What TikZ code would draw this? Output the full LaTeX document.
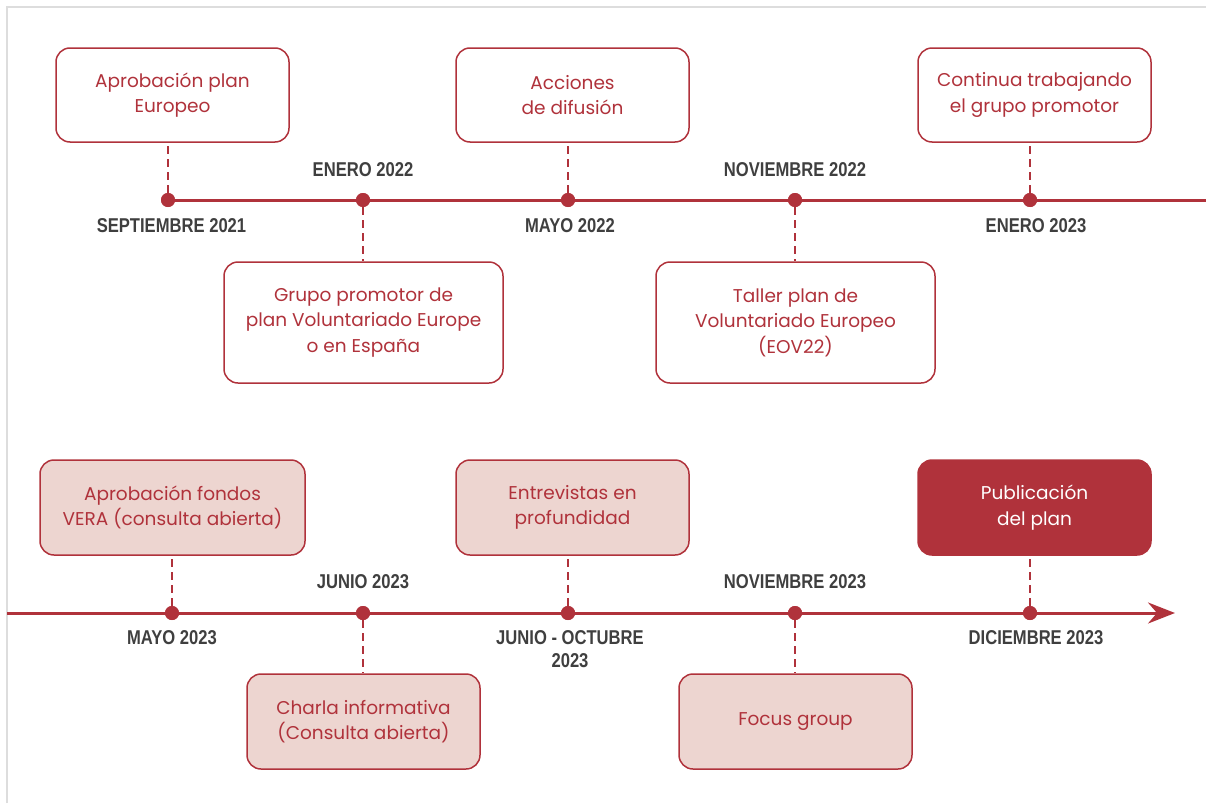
\documentclass[tikz,border=0pt]{standalone}
\usepackage{fontspec}
\usetikzlibrary{arrows.meta}
\newfontfamily\boxfont{Poppins}
\newfontfamily\labfont[FakeStretch=0.83]{Liberation Sans}
\definecolor{tlred}{HTML}{B0323B}
\definecolor{tlpink}{HTML}{EDD5D0}
\definecolor{labgray}{HTML}{3F3F3F}
\definecolor{framegray}{HTML}{DDDDDD}
\tikzset{
  evbox/.style={draw=tlred, line width=1.5pt, rounded corners=14pt, text=tlred,
    align=center, inner sep=0pt, font=\boxfont\fontsize{18.5pt}{25.5pt}\selectfont},
  whitebox/.style={evbox, fill=white},
  pinkbox/.style={evbox, fill=tlpink},
  darkbox/.style={evbox, fill=tlred, text=white},
  smallbox/.style={minimum width=233pt, minimum height=94pt},
  widebox/.style={minimum width=279pt, minimum height=121pt},
  datelab/.style={text=labgray, align=center, inner sep=0pt,
    font=\labfont\bfseries\fontsize{20pt}{23pt}\selectfont},
  dot/.style={circle, fill=tlred, inner sep=0pt, minimum size=14pt},
  tline/.style={tlred, line width=3pt},
  conn/.style={tlred, line width=2pt, dash pattern=on 8pt off 5pt},
}
\begin{document}
\begin{tikzpicture}[x=1pt, y=-1pt]
\useasboundingbox (0,0) rectangle (1206,803);
\draw[framegray, line width=1.5pt] (7,803) -- (7,7) -- (1206,7);
% ---- top timeline
\coordinate (tend) at (1206,200);
\node[dot] (d1) at (168,200) {};
\node[dot] (d2) at (363,200) {};
\node[dot] (d3) at (568,200) {};
\node[dot] (d4) at (795,200) {};
\node[dot] (d5) at (1030,200) {};
\draw[tline] (d1.center) -- (tend);
\foreach \d in {d1,d2,d3,d4,d5} \node[dot] at (\d) {};
\node[whitebox, smallbox] (b1) at (172.5,95) {Aprobación plan\\Europeo};
\node[whitebox, smallbox] (b2) at (572.5,95) {Acciones\\de difusión};
\node[whitebox, smallbox] (b3) at (1034.5,95) {Continua trabajando\\el grupo promotor};
\node[whitebox, widebox] (b4) at (363.5,322.5) {Grupo promotor de\\plan Voluntariado Europe\\o en España};
\node[whitebox, widebox] (b5) at (795.5,322.5) {Taller plan de\\Voluntariado Europeo\\(EOV22)};
\draw[conn] (d1) -- (d1 |- b1.south);
\draw[conn] (d3) -- (d3 |- b2.south);
\draw[conn] (d5) -- (d5 |- b3.south);
\draw[conn] (d2) -- (d2 |- b4.north);
\draw[conn] (d4) -- (d4 |- b5.north);
\node[datelab] (l1) at (171.5,226) {SEPTIEMBRE 2021};
\node[datelab] (l2) at (363,170) {ENERO 2022};
\node[datelab] (l3) at (570,226) {MAYO 2022};
\node[datelab] (l4) at (795,170) {NOVIEMBRE 2022};
\node[datelab] (l5) at (1036,226) {ENERO 2023};
% ---- bottom timeline
\coordinate (bstart) at (7,613);
\coordinate (bend) at (1175,613);
\node[dot] (e1) at (172,613) {};
\node[dot] (e2) at (363,613) {};
\node[dot] (e3) at (568,613) {};
\node[dot] (e4) at (795,613) {};
\node[dot] (e5) at (1030,613) {};
\draw[tline, -{Stealth[length=27pt, width=21pt, inset=9pt]}] (bstart) -- (bend);
\foreach \d in {e1,e2,e3,e4,e5} \node[dot] at (\d) {};
\node[pinkbox, minimum width=265pt, minimum height=95pt] (c1) at (172.5,507.5) {Aprobación fondos\\VERA (consulta abierta)};
\node[pinkbox, smallbox, minimum height=95pt] (c2) at (572.5,507.5) {Entrevistas en\\profundidad};
\node[darkbox, smallbox, minimum height=95pt] (c3) at (1034.5,507.5) {Publicación\\del plan};
\node[pinkbox, smallbox, minimum height=95pt] (c4) at (363.5,721.5) {Charla informativa\\(Consulta abierta)};
\node[pinkbox, smallbox, minimum height=95pt] (c5) at (795.5,721.5) {Focus group};
\draw[conn] (e1) -- (e1 |- c1.south);
\draw[conn] (e3) -- (e3 |- c2.south);
\draw[conn] (e5) -- (e5 |- c3.south);
\draw[conn] (e2) -- (e2 |- c4.north);
\draw[conn] (e4) -- (e4 |- c5.north);
\node[datelab] (m1) at (172,638) {MAYO 2023};
\node[datelab] (m2) at (363,582) {JUNIO 2023};
\node[datelab] (m3) at (570,649.5) {JUNIO - OCTUBRE\\2023};
\node[datelab] (m4) at (795,582) {NOVIEMBRE 2023};
\node[datelab] (m5) at (1036,638) {DICIEMBRE 2023};
\end{tikzpicture}
\end{document}
